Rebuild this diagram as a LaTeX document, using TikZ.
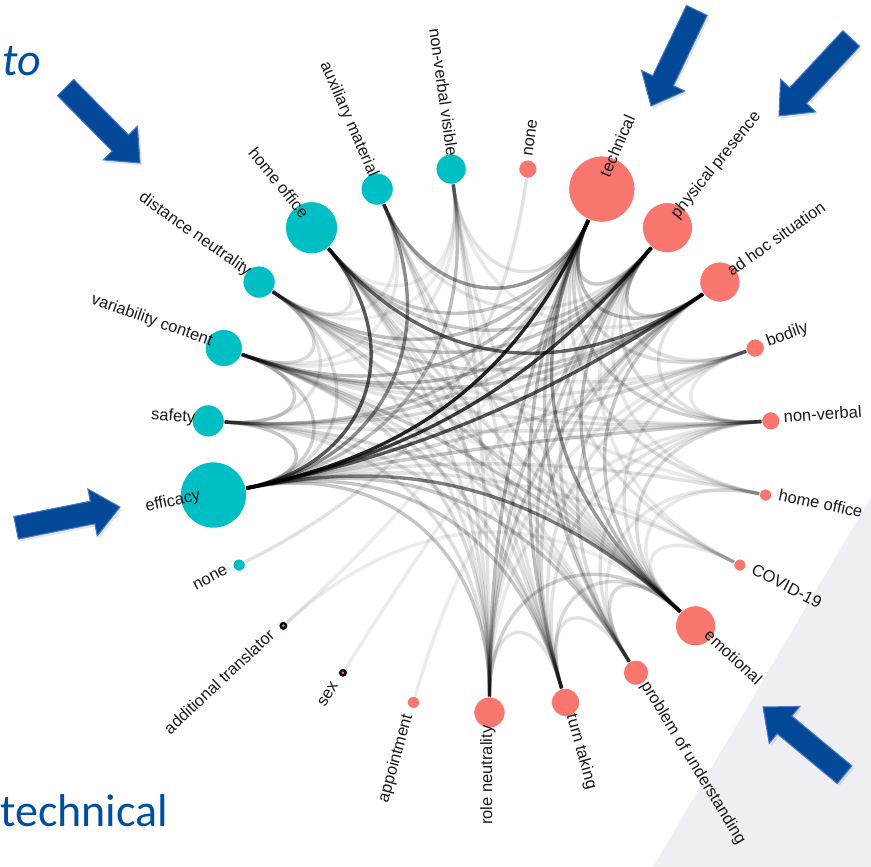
\documentclass[tikz,border=0pt]{standalone}
\usepackage{fontspec}
\setmainfont{Liberation Sans}
\newfontfamily\calfont{Carlito}
\usetikzlibrary{calc,shadows}
\definecolor{cy}{RGB}{0,191,196}
\definecolor{rd}{RGB}{248,118,109}
\definecolor{blk}{RGB}{10,10,10}
\definecolor{slideblue}{RGB}{0,78,158}
\definecolor{arrowfill}{RGB}{3,73,152}
\definecolor{arrowedge}{RGB}{76,122,196}
\definecolor{panel}{RGB}{239,238,242}
\newcommand\nodelist{0/9/rd/none, 1/33/rd/technical, 2/25/rd/physical presence, 3/20/rd/ad hoc situation, 4/9/rd/bodily, 5/9/rd/non-verbal, 6/6/rd/home office, 7/6/rd/COVID-19, 8/20/rd/emotional, 9/12.5/rd/problem of understanding, 10/14/rd/turn taking, 11/15.5/rd/role neutrality, 12/6/rd/appointment, 13/4.5/blk/sex, 14/4.5/blk/additional translator, 15/6/cy/none, 16/33/cy/efficacy, 17/16/cy/safety, 18/18.5/cy/variability content, 19/16/cy/distance neutrality, 20/26/cy/home office, 21/16/cy/auxiliary material, 22/15/cy/non-verbal visible}
\newcommand\blockarrow[3]{%
  \begin{scope}[shift={(#1,#2)},rotate=#3]
    \path[bigarrow] (0,0) -- (-28,24) -- (-28,11.5) -- (-106,11.5) -- (-106,-11.5) -- (-28,-11.5) -- (-28,-24) -- cycle;
  \end{scope}}
\begin{document}
\begin{tikzpicture}[x=1pt,y=1pt,
  edge/.style={draw=black,line width=3.4pt,line cap=round},
  dot/.style={circle,inner sep=0pt,draw=white,line width=0.6pt},
  lab/.style={inner sep=0pt,font=\fontsize{16.5}{18}\selectfont,text=black!90},
  slidetext/.style={inner sep=0pt,anchor=base west,text=slideblue},
  bigarrow/.style={fill=arrowfill,draw=arrowedge,line width=1pt,line join=miter,
    drop shadow={shadow xshift=2pt,shadow yshift=-2.5pt,opacity=0.2}}]
\useasboundingbox (0,0) rectangle (871,867);
\fill[panel] (871,370) -- (653,0) -- (871,0) -- cycle;
\coordinate (ctr) at (489.5,427.5);
% positions
\foreach \k/\r/\col/\lab in \nodelist {
  \pgfmathsetmacro\myang{(\k+0.5)*360/23}
  \coordinate (p\k) at ({489.5+282*sin(\myang)},{427.5+273*cos(\myang)});
  \coordinate (in\k) at ({489.5+(282-\r-1)*sin(\myang)},{427.5+(273-\r-1)*cos(\myang)});
}
% edges
\foreach \a/\b/\o in {1/16/0.85, 2/16/0.75, 3/16/0.65, 20/16/0.65, 20/3/0.6, 16/8/0.5, 21/16/0.45, 21/1/0.4, 1/3/0.35, 1/2/0.3, 2/3/0.25,
  1/18/0.35, 1/19/0.35, 1/17/0.3, 1/20/0.3, 1/22/0.15, 1/8/0.4, 1/9/0.3, 1/10/0.35, 1/11/0.35, 1/4/0.2, 1/5/0.25, 1/6/0.18, 1/7/0.15, 1/14/0.1,
  2/18/0.35, 2/19/0.3, 2/17/0.25, 2/20/0.3, 2/21/0.15, 2/8/0.35, 2/9/0.2, 2/10/0.25, 2/11/0.25, 2/4/0.18, 2/5/0.2, 2/6/0.12, 2/7/0.12, 2/13/0.1,
  3/18/0.3, 3/19/0.25, 3/17/0.2, 3/8/0.3, 3/9/0.2, 3/10/0.2, 3/11/0.25, 3/5/0.15, 3/22/0.12, 3/12/0.1,
  16/9/0.3, 16/10/0.3, 16/11/0.3, 16/4/0.22, 16/5/0.28, 16/6/0.15, 16/7/0.15, 16/17/0.3, 16/18/0.25, 16/19/0.2, 16/22/0.35,
  8/17/0.22, 8/18/0.3, 8/19/0.25, 8/20/0.2, 8/21/0.2, 8/22/0.15, 8/9/0.2, 8/10/0.2, 8/11/0.25, 8/4/0.15, 8/5/0.2, 8/6/0.12, 8/7/0.12, 8/14/0.1,
  9/18/0.18, 9/19/0.12, 9/20/0.15, 9/10/0.15, 9/5/0.15, 9/6/0.12,
  10/17/0.18, 10/18/0.2, 10/20/0.18, 10/21/0.15, 10/22/0.15, 10/11/0.15, 10/4/0.15, 10/5/0.15,
  11/17/0.18, 11/18/0.2, 11/19/0.15, 11/20/0.18, 11/21/0.15, 11/22/0.15, 11/4/0.12, 11/5/0.12,
  4/18/0.15, 4/20/0.12, 4/5/0.12, 5/17/0.15, 5/18/0.15, 5/19/0.15, 6/20/0.12, 7/18/0.1,
  17/18/0.25, 17/19/0.15, 18/19/0.2, 18/21/0.12, 19/20/0.15, 19/21/0.12, 20/22/0.1, 18/22/0.12, 19/22/0.1, 15/0/0.15} {
  \pgfmathsetmacro\mydist{min(abs(\a-\b),23-abs(\a-\b))}
  \pgfmathsetmacro\myk{0.25+0.45*min(1,\mydist/7)}
  \pgfmathsetmacro\myo{\o<0.4 ? 0.75*\o : \o}
  \draw[edge,draw opacity=\myo] (in\a) .. controls ($(in\a)!\myk!(ctr)$) and ($(in\b)!\myk!(ctr)$) .. (in\b);
}
% nodes and labels
\foreach \k/\r/\col/\lab in \nodelist {
  \pgfmathsetmacro\myang{(\k+0.5)*360/23}
  \node[dot,fill=\col,minimum size=2*\r] (n\k) at (p\k) {};
  \ifnum\k<11
    \node[lab,anchor=mid west,rotate=90-\myang] (l\k) at ($(p\k)+({13*sin(\myang)},{13*cos(\myang)})$) {\lab};
  \else
    \node[lab,anchor=mid east,rotate=270-\myang] (l\k) at ($(p\k)+({13*sin(\myang)},{13*cos(\myang)})$) {\lab};
  \fi
}
\fill[rd] (p13) circle (1.5);
\fill[rd] (p14) circle (1.5);
% slide texts
\node[slidetext,font=\calfont\itshape\fontsize{46}{50}\selectfont] (totext) at (2,791) {to};
\node[slidetext,font=\calfont\fontsize{46}{50}\selectfont] (techtext) at (0,40) {technical};
% arrows
\blockarrow{140}{704}{-45.4}
\blockarrow{651}{761}{244.4}
\blockarrow{779}{751}{227}
\blockarrow{120}{360}{11.3}
\blockarrow{763}{160}{140.3}
\end{tikzpicture}
\end{document}
